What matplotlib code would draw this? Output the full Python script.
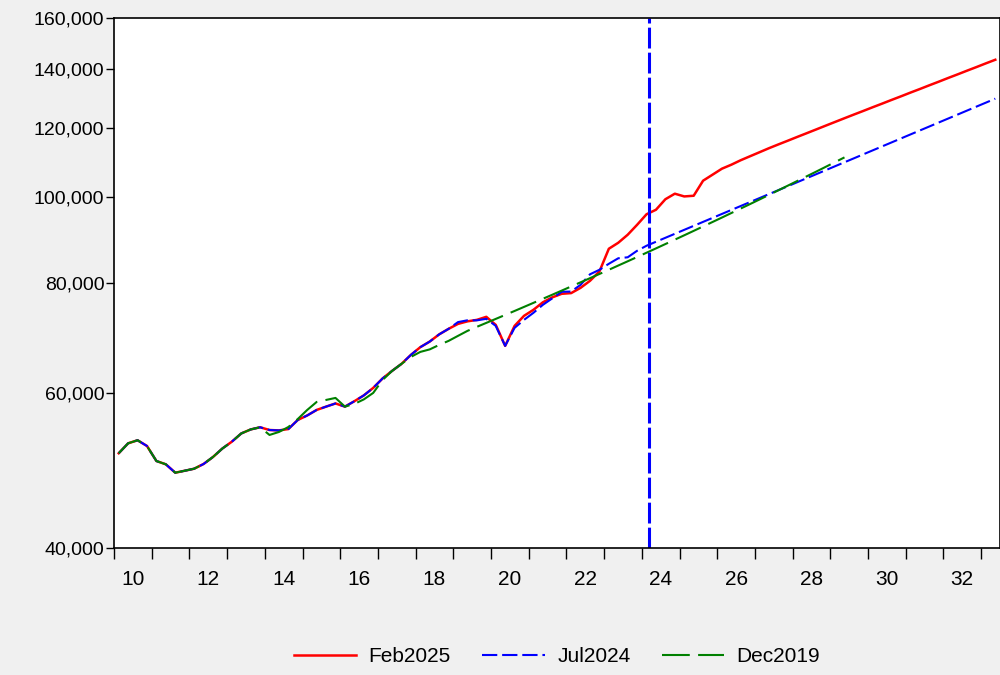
import numpy as np
import matplotlib.pyplot as plt
from matplotlib.ticker import FixedLocator, FuncFormatter, NullLocator

plt.rcParams['font.family'] = ['Liberation Sans', 'DejaVu Sans']
plt.rcParams['lines.scale_dashes'] = False

# quarterly series, first observation 2010Q1
start_year = 2010

feb2025 = [
    51250, 52600, 53020, 52230, 50220, 49790, 48710, 48960,
    49220, 49830, 50750, 51890, 52820, 53970, 54540, 54850,
    54460, 54400, 54600, 55910, 56570, 57390, 57890, 58370,
    57890, 58710, 59610, 60790, 62320, 63550, 64730, 66270,
    67620, 68620, 69920, 70940, 71860, 72340, 72620, 73200,
    71680, 67850, 71490, 73390, 74550, 76030, 77020, 77740,
    77880, 78960, 80420, 82400, 87450, 88830, 90710, 93100,
    95700, 96830, 99530, 100980, 100260, 100440, 104470, 106120,
    107800, 108930, 110220, 111380, 112550, 113740, 114870, 115990,
    117140, 118280, 119440, 120620, 121800, 122990, 124180, 125360,
    126580, 127780, 129020, 130240, 131510, 132750, 134040, 135310,
    136630, 137920, 139260, 140580, 141950, 143290,
]

jul2024 = [
    51250, 52600, 53020, 52230, 50220, 49790, 48710, 48960,
    49220, 49830, 50750, 51890, 52820, 53970, 54540, 54850,
    54460, 54400, 54600, 55910, 56570, 57390, 57890, 58370,
    57890, 58710, 59610, 60790, 62320, 63550, 64730, 66270,
    67620, 68620, 69920, 70940, 72200, 72540, 72530, 72820,
    71490, 67850, 71120, 72620, 73970, 75530, 76820, 78140,
    78200, 79580, 81800, 82770, 84080, 85300, 85520, 86990,
    88140, 89060, 89990, 90930, 91880, 92840, 93810, 94790,
    95780, 96780, 97790, 98810, 99840, 100880, 101930, 102990,
    104070, 105160, 106260, 107370, 108490, 109620, 110760, 111920,
    113090, 114270, 115460, 116670, 117890, 119120, 120360, 121620,
    122890, 124170, 125470, 126780, 128100, 129440,
]

dec2019 = [
    51250, 52600, 53020, 52230, 50220, 49790, 48710, 48960,
    49220, 49830, 50750, 51890, 52820, 53970, 54540, 54850,
    53760, 54180, 54890, 56050, 57390, 58600, 58910, 59220,
    57890, 58300, 58990, 60000, 62070, 63550, 64730, 65920,
    66790, 67230, 68020, 68740, 69650, 70560, 71310, 72050,
    72800, 73560, 74330, 75120, 75920, 76730, 77550, 78390,
    79240, 80100, 80980, 81870, 82770, 83700, 84630, 85580,
    86550, 87530, 88530, 89550, 90580, 91630, 92700, 93780,
    94880, 96010, 97150, 98300, 99480, 100680, 101900, 103140,
    104400, 105680, 106980, 108310, 109660, 111030,
]

y_ticks = [40000, 60000, 80000, 100000, 120000, 140000, 160000]
year_labels = ['10', '12', '14', '16', '18', '20', '22', '24', '26', '28', '30', '32']
vline_date = 2024.18


def quarter_dates(n):
    # each quarter plotted at the middle of its slot
    return start_year + (np.arange(n) + 0.5) / 4.0


fig = plt.figure(figsize=(10, 6.75), dpi=100, facecolor='#f0f0f0')
ax = fig.add_axes([0.114, 0.188, 0.886, 0.786])
ax.set_facecolor('white')

ax.plot(quarter_dates(len(feb2025)), feb2025, color='#ff0000', lw=1.8, label='Feb2025')
ax.plot(quarter_dates(len(jul2024)), jul2024, color='#0000ff', lw=1.5,
        dashes=(11, 3.5), label='Jul2024')
ax.plot(quarter_dates(len(dec2019)), dec2019, color='#008000', lw=1.5,
        dashes=(20, 6), label='Dec2019')
ax.axvline(vline_date, color='#0000ff', lw=2.2, dashes=(15, 3))

ax.set_yscale('log')
ax.set_ylim(40000, 160000)
ax.yaxis.set_major_locator(FixedLocator(y_ticks))
ax.yaxis.set_minor_locator(NullLocator())
ax.yaxis.set_major_formatter(FuncFormatter(lambda v, p: f'{v:,.0f}'))

ax.set_xlim(2010, 2033.5)
ax.set_xticks(np.arange(2010, 2034))
ax.set_xticklabels([])
ax.set_xticks(np.arange(2010.5, 2033, 2), minor=True)
ax.set_xticklabels(year_labels, minor=True)
ax.tick_params(axis='x', which='major', length=8, width=1, direction='out')
ax.tick_params(axis='x', which='minor', length=0, pad=16, labelsize=15)
ax.tick_params(axis='y', which='major', length=6, width=1, pad=1, labelsize=14)

for s in ax.spines.values():
    s.set_color('black')
    s.set_linewidth(1.2)

fig.legend(loc='center', bbox_to_anchor=(0.557, 0.027), ncol=3, frameon=False,
           fontsize=15, handlelength=3.0, handletextpad=0.6, columnspacing=1.5)

fig.savefig('out.png', dpi=100, facecolor=fig.get_facecolor())
